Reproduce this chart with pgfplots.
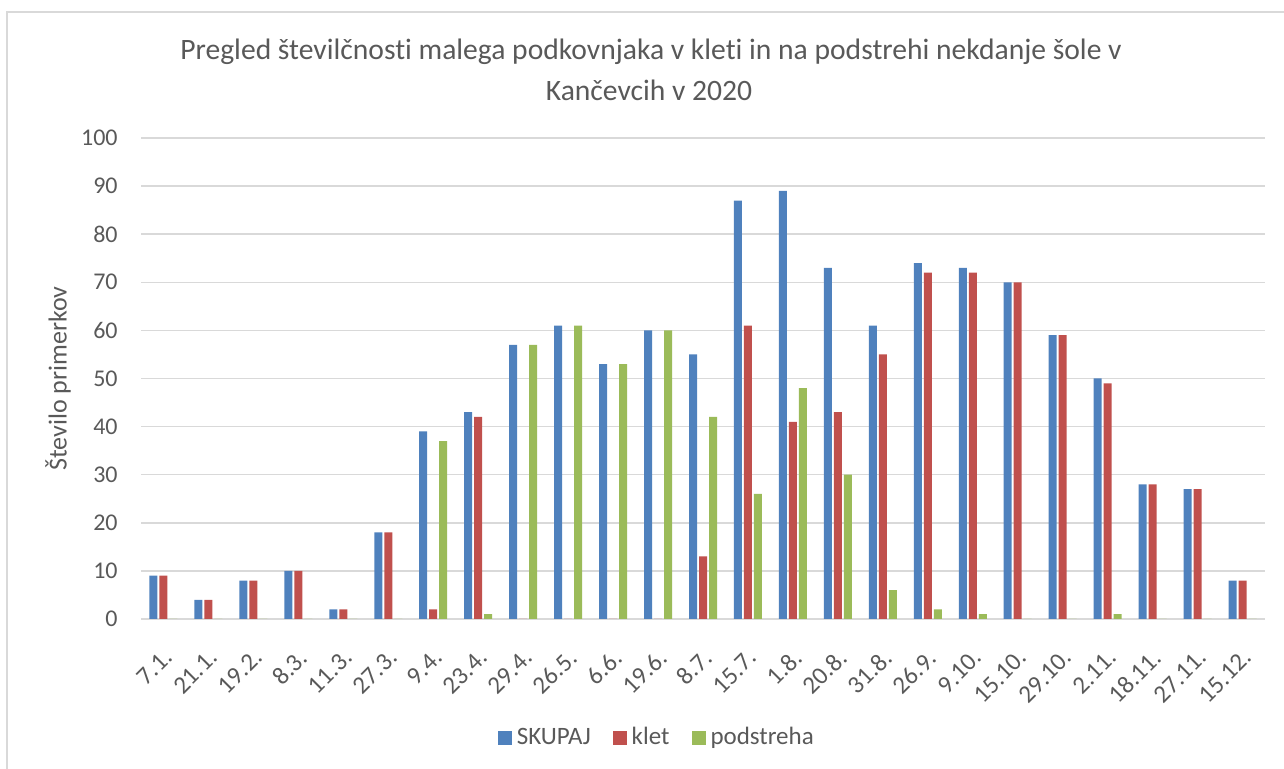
\documentclass[border=0pt]{standalone}
\usepackage{pgfplots}
\pgfplotsset{compat=1.18}
\usepackage{fontspec}
\setmainfont{Carlito}[Ligatures={NoCommon,NoRequired,NoContextual}]
\definecolor{cblue}{HTML}{4F81BD}
\definecolor{cred}{HTML}{C0504D}
\definecolor{cgreen}{HTML}{9BBB59}
\definecolor{ctext}{HTML}{595959}
\definecolor{cgrid}{HTML}{D9D9D9}
\begin{document}
\begin{tikzpicture}[x=1pt,y=1pt]
\path[use as bounding box] (0,0) rectangle (642,384.5);
\draw[cgrid, line width=0.75pt] (3.5,-20) rectangle (700,378.5);
\node[anchor=base, text=ctext, inner sep=0pt, font=\fontsize{14.8}{17}\selectfont] at (325.5,354.5) {Pregled številčnosti malega podkovnjaka v kleti in na podstrehi nekdanje šole v};
\node[anchor=base, text=ctext, inner sep=0pt, font=\fontsize{14.8}{17}\selectfont] at (324.5,334) {Kančevcih v 2020};
\begin{axis}[
  at={(70.5pt,75pt)}, anchor=south west,
  scale only axis, width=562pt, height=240.5pt,
  ybar=1pt, bar width=4pt,
  xmin=-0.5, xmax=24.5, ymin=0, ymax=100,
  xtick={0,...,24},
  xticklabels={7.1.,21.1.,19.2.,8.3.,11.3.,27.3.,9.4.,23.4.,29.4.,26.5.,6.6.,19.6.,8.7.,15.7.,1.8.,20.8.,31.8.,26.9.,9.10.,15.10.,29.10.,2.11.,18.11.,27.11.,15.12.},
  major x tick style={draw=none},
  extra x ticks={-0.5,0.5,...,24.5}, extra x tick labels={},
  extra x tick style={tick align=outside, major tick length=2.5pt, major tick style={draw=cgrid, line width=0.75pt}, grid=none},
  ytick={0,10,...,100},
  ymajorgrids, grid style={cgrid, line width=0.75pt},
  major y tick style={draw=none},
  axis lines*=left,
  y axis line style={draw=none},
  x axis line style={cgrid, line width=0.75pt},
  /pgf/number format/assume math mode=true,
  yticklabel style={font=\fontsize{12}{14}\selectfont, text=ctext, inner sep=0pt, xshift=-11.5pt},
  xticklabel style={font=\fontsize{12.5}{14}\selectfont, text=ctext, inner sep=0pt, xshift=2.5pt, yshift=-13pt, rotate=45, anchor=east},
  ylabel={Število primerkov},
  ylabel style={at={(axis description cs:-0.0738,0.5)}, anchor=center, font=\fontsize{13}{15}\selectfont, text=ctext},
  legend columns=3,
  legend style={at={(axis description cs:0.458,-0.247)}, anchor=center, draw=none, fill=none,
    font=\fontsize{12.5}{14}\selectfont, text=ctext, nodes={inner xsep=0pt},
    /tikz/every odd column/.append style={column sep=2.5pt},
    /tikz/every even column/.append style={column sep=11pt}},
  legend image code/.code={\fill[#1] (0pt,-3.5pt) rectangle (7pt,3.5pt);},
]
\addplot[fill=cblue, draw=none] coordinates {(0,9) (1,4) (2,8) (3,10) (4,2) (5,18) (6,39) (7,43) (8,57) (9,61) (10,53) (11,60) (12,55) (13,87) (14,89) (15,73) (16,61) (17,74) (18,73) (19,70) (20,59) (21,50) (22,28) (23,27) (24,8)};
\addplot[fill=cred, draw=none] coordinates {(0,9) (1,4) (2,8) (3,10) (4,2) (5,18) (6,2) (7,42) (8,0) (9,0) (10,0) (11,0) (12,13) (13,61) (14,41) (15,43) (16,55) (17,72) (18,72) (19,70) (20,59) (21,49) (22,28) (23,27) (24,8)};
\addplot[fill=cgreen, draw=none] coordinates {(0,0) (1,0) (2,0) (3,0) (4,0) (5,0) (6,37) (7,1) (8,57) (9,61) (10,53) (11,60) (12,42) (13,26) (14,48) (15,30) (16,6) (17,2) (18,1) (19,0) (20,0) (21,1) (22,0) (23,0) (24,0)};
\legend{SKUPAJ,klet,podstreha}
\end{axis}
\end{tikzpicture}
\end{document}
